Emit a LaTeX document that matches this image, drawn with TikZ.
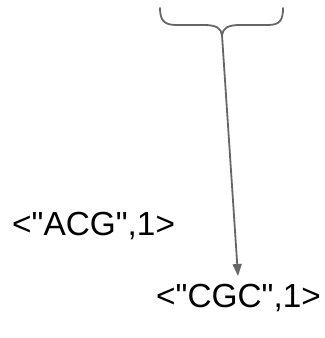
\documentclass[tikz,border=0pt]{standalone}
\usepackage{fontspec}
\setmainfont{Liberation Sans}[Ligatures=TeXOff]
\usetikzlibrary{arrows.meta}
\definecolor{linegray}{HTML}{666666}
\begin{document}
\begin{tikzpicture}[x=1bp,y=-1bp,
  pair/.style={inner sep=0pt,font=\fontsize{33.5}{38}\selectfont,text=black},
  link/.style={draw=linegray,line width=1.8bp,line cap=round}]
\useasboundingbox (0,0) rectangle (325,338);
% curly brace gathering the group above
\coordinate (cusp) at (222,35);
\coordinate (tip) at (238,276);
\draw[link,line join=round] (160,8) .. controls (160,20) and (164,25) .. (176,25)
  -- (204,25) .. controls (216,25) and (221,28) .. (cusp)
  .. controls (223,28) and (228,25) .. (240,25)
  -- (268,25) .. controls (280,25) and (283,20) .. (283,8);
\draw[link,-{Triangle[length=12bp,width=9bp]}] (cusp) -- (tip);
% key/value pairs
\node[pair,anchor=base west] (acg) at (12,235) {<"ACG",1>};
\node[pair,anchor=base west] (cgc) at (156,307) {<"CGC",1>};
\end{tikzpicture}
\end{document}
